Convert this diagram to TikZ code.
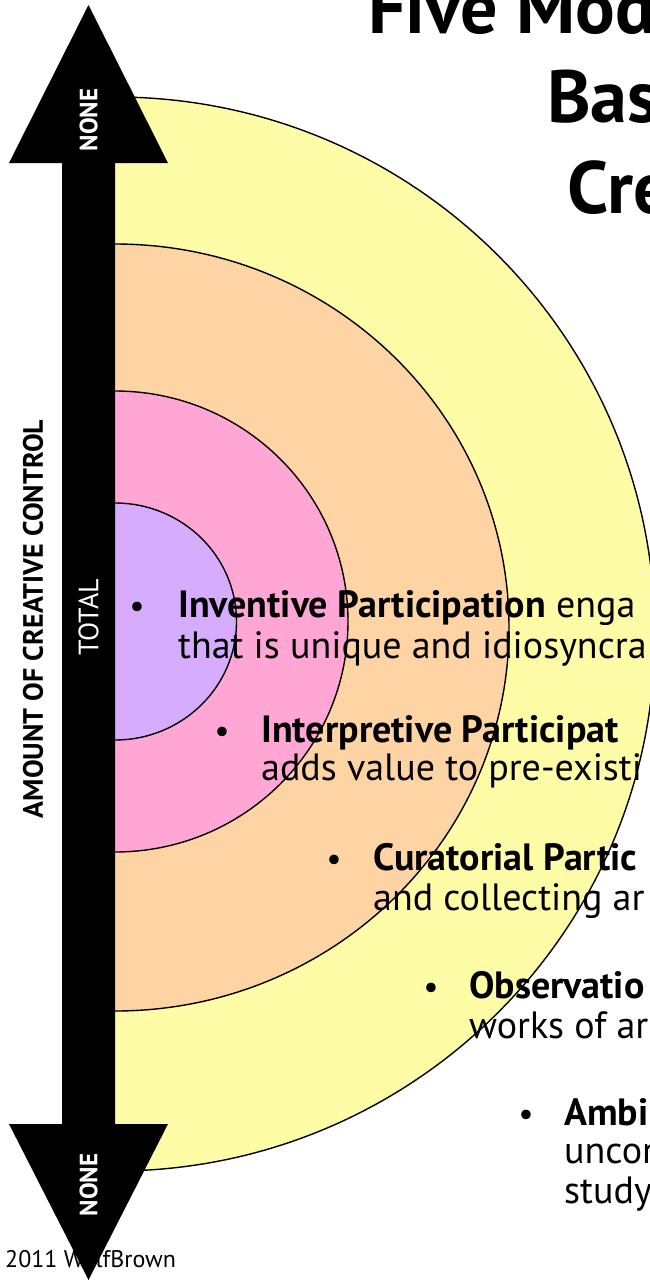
\documentclass[tikz,border=0pt]{standalone}
\usepackage{fontspec}
\setmainfont{PT Sans}
\usetikzlibrary{positioning}

\definecolor{ambientyellow}{RGB}{255,252,168}
\definecolor{curatorpeach}{RGB}{255,212,165}
\definecolor{interppink}{RGB}{255,166,212}
\definecolor{inventlilac}{RGB}{214,172,255}

\tikzset{
    ring/.style={draw=black, line width=1.4pt},
    titletext/.style={anchor=base west, inner sep=0pt, font=\fontsize{74}{90}\selectfont\bfseries},
    modetext/.style={anchor=base west, inner sep=0pt, font=\fontsize{38}{41}\selectfont},
    bulletmark/.style={anchor=base, inner sep=0pt, font=\fontsize{34}{41}\selectfont},
    armlabel/.style={rotate=90, text=white, inner sep=0pt, font=\fontsize{25}{25}\selectfont\bfseries},
    axislabel/.style={rotate=90, inner sep=0pt, font=\fontsize{28}{28}\selectfont\bfseries},
}

\begin{document}
\begin{tikzpicture}[x=1pt, y=-1pt]
    \useasboundingbox (0,0) rectangle (650,1280);

    % rings of participation
    \begin{scope}
        \clip (115,0) rectangle (650,1280);
        \draw[ring, fill=ambientyellow] (115,634) ellipse [x radius=540pt, y radius=537pt];
        \draw[ring, fill=curatorpeach] (115,627.5) ellipse [x radius=394pt, y radius=383.5pt];
        \draw[ring, fill=interppink] (115,621.5) ellipse [x radius=233pt, y radius=230.5pt];
        \draw[ring, fill=inventlilac] (115,621.5) ellipse [x radius=121.5pt, y radius=118.5pt];
    \end{scope}

    % title
    \node[titletext] (title1) at (368,33) {Five Mod};
    \node[titletext] (title2) at (547,122) {Bas};
    \node[titletext] (title3) at (567,213) {Cre};

    % modes
    \node[bulletmark] (dot1) at (137,617) {\textbullet};
    \node[modetext] (inventive) at (178,617) {\textbf{Inventive Participation} enga};
    \node[modetext] (inventive2) at (178,658) {that is unique and idiosyncra};
    \node[bulletmark] (dot2) at (222,742) {\textbullet};
    \node[modetext] (interpretive) at (261,742) {\textbf{Interpretive Participat}};
    \node[modetext] (interpretive2) at (261,780) {adds value to pre-existi};
    \node[bulletmark] (dot3) at (334,870) {\textbullet};
    \node[modetext] (curatorial) at (373,870) {\textbf{Curatorial Partic}};
    \node[modetext] (curatorial2) at (373,910) {and collecting ar};
    \node[bulletmark] (dot4) at (431,998) {\textbullet};
    \node[modetext] (observational) at (469,998) {\textbf{Observatio}};
    \node[modetext] (observational2) at (469,1038) {works of ar};
    \node[bulletmark] (dot5) at (526,1125) {\textbullet};
    \node[modetext] (ambient) at (564,1125) {\textbf{Ambi}};
    \node[modetext] (ambient2) at (564,1163) {uncon};
    \node[modetext] (ambient3) at (564,1203) {study};

    \node[anchor=base west, inner sep=0pt, font=\fontsize{24}{24}\selectfont] (credit) at (5,1267) {2011 WolfBrown};

    % control axis
    \fill (88.5,5) -- (168,163) -- (115,163) -- (115,1124) -- (168,1124) -- (88.5,1280)
        -- (9,1124) -- (62,1124) -- (62,163) -- (9,163) -- cycle;
    \node[armlabel] (topnone) at (88.5,120) {NONE};
    \node[armlabel] (bottomnone) at (88.5,1185) {NONE};
    \node[armlabel, font=\fontsize{28}{28}\selectfont] (total) at (88.5,617) {TOTAL};
    \node[axislabel] (axis) at (33,619) {AMOUNT OF CREATIVE CONTROL};
\end{tikzpicture}
\end{document}
